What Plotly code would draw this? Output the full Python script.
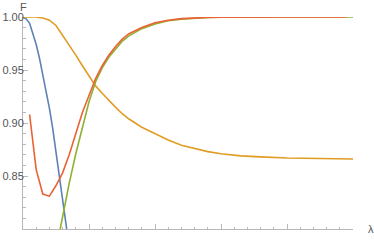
import plotly.graph_objects as go

# ---- data ----
blue_x = [0, 0.05, 0.10, 0.15, 0.20, 0.25, 0.30, 0.35, 0.40, 0.45, 0.50, 0.55, 0.60, 0.65, 0.70]
blue_y = [1.000, 0.998, 0.994, 0.985, 0.974, 0.961, 0.946, 0.931, 0.914, 0.895, 0.872, 0.848, 0.824, 0.804, 0.783]

yellow_x = [0, 0.2, 0.3, 0.4, 0.5, 0.6, 0.7, 0.8, 0.9, 1.0, 1.1, 1.2, 1.3, 1.4, 1.5, 1.6, 1.8,
            2.0, 2.2, 2.4, 2.6, 2.8, 3.0, 3.3, 3.6, 4.0, 4.5, 5.0]
yellow_y = [1.000, 1.000, 0.999, 0.997, 0.992, 0.983, 0.974, 0.964, 0.954, 0.944, 0.935, 0.928,
            0.921, 0.915, 0.909, 0.904, 0.896, 0.890, 0.884, 0.879, 0.876, 0.873, 0.871, 0.869,
            0.868, 0.867, 0.8665, 0.866]

green_x = [0.5, 0.6, 0.7, 0.8, 0.9, 1.0, 1.1, 1.2, 1.3, 1.4, 1.5, 1.6, 1.8, 2.0, 2.2, 2.4, 2.6,
           2.8, 3.0, 3.5, 4.0, 5.0]
green_y = [0.780, 0.812, 0.843, 0.871, 0.897, 0.920, 0.939, 0.952, 0.962, 0.970, 0.977, 0.982,
           0.989, 0.9935, 0.9965, 0.998, 0.999, 0.9995, 0.9997, 1.0, 1.0, 1.0]

red_x = [0.1, 0.2, 0.3, 0.4, 0.5, 0.6, 0.7, 0.8, 0.9, 1.0, 1.1, 1.2, 1.3, 1.4, 1.5, 1.6, 1.8,
         2.0, 2.2, 2.4, 2.6, 2.8, 3.0, 3.5, 4.0, 4.9]
red_y = [0.908, 0.856, 0.833, 0.831, 0.841, 0.853, 0.870, 0.891, 0.910, 0.926, 0.942, 0.954,
         0.964, 0.972, 0.979, 0.984, 0.990, 0.9945, 0.997, 0.9985, 0.9992, 0.9996, 0.9997,
         1.0, 1.0, 1.0]

y_ticks = [0.85, 0.90, 0.95, 1.00]
y_tick_labels = ["0.85", "0.90", "0.95", "1.00"]

fig = go.Figure()
line_w = 1.6
fig.add_trace(go.Scatter(x=blue_x, y=blue_y, mode="lines", line=dict(color="#5E81B5", width=line_w)))
fig.add_trace(go.Scatter(x=yellow_x, y=yellow_y, mode="lines", line=dict(color="#E19C24", width=line_w)))
fig.add_trace(go.Scatter(x=green_x, y=green_y, mode="lines", line=dict(color="#8FB032", width=line_w)))
fig.add_trace(go.Scatter(x=red_x, y=red_y, mode="lines", line=dict(color="#EB6235", width=line_w)))

axis_col = "#B8B8B8"
font = dict(family="Liberation Sans, Arial, sans-serif", size=11, color="#555555")

fig.update_layout(
    width=374, height=245,
    margin=dict(l=23, r=21, t=17, b=16, autoexpand=False),
    paper_bgcolor="white", plot_bgcolor="white",
    showlegend=False,
    font=font,
    xaxis=dict(
        range=[0, 5], showgrid=False, zeroline=False, automargin=False,
        showline=True, linecolor=axis_col, linewidth=1,
        ticks="inside", ticklen=5, tickcolor=axis_col, tickwidth=1,
        tick0=0, dtick=1, showticklabels=False,
        minor=dict(ticks="inside", ticklen=2.5, tickcolor=axis_col, dtick=0.2, showgrid=False),
    ),
    yaxis=dict(
        range=[0.80, 1.00], showgrid=False, zeroline=False, automargin=False,
        showline=True, linecolor=axis_col, linewidth=1,
        ticks="inside", ticklen=5, tickcolor=axis_col, tickwidth=1,
        tickmode="array", tickvals=y_ticks, ticktext=y_tick_labels,
        minor=dict(ticks="inside", ticklen=2.5, tickcolor=axis_col, dtick=0.01, tick0=0.8, showgrid=False),
        tickfont=font, ticklabelstandoff=-4,
    ),
    annotations=[
        dict(text="F", xref="paper", yref="paper", x=0, y=1, xanchor="center", yanchor="bottom",
             yshift=2, showarrow=False, font=font),
        dict(text="λ", xref="paper", yref="paper", x=1, y=0, xanchor="left", yanchor="middle",
             xshift=13, showarrow=False, font=font),
    ],
)

fig.write_html("out.html", config={"displayModeBar": False},
               post_script="document.body.style.margin='0';document.body.style.overflow='hidden';")
